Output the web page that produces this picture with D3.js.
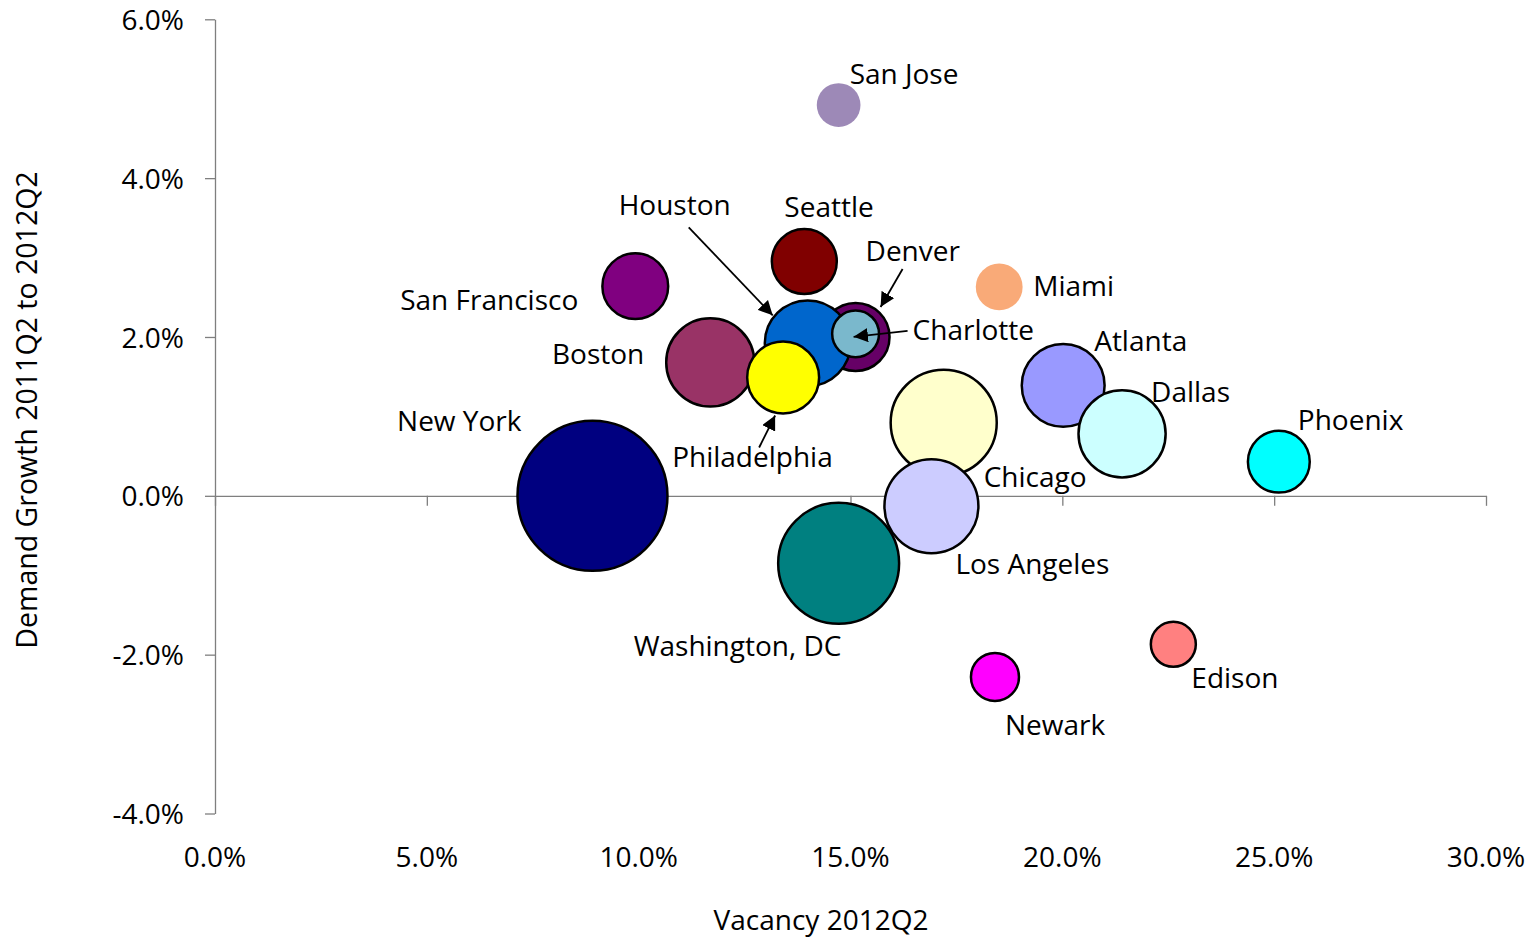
<!DOCTYPE html>
<html lang="en">
<head>
<meta charset="UTF-8">
<script src="https://cdn.jsdelivr.net/npm/d3@7/dist/d3.min.js"></script>
<title>Vacancy vs Demand Growth</title>
<style>
    body { margin: 0; background: #fff; }
    text { font-family: "Open Sans", sans-serif; fill: #000; }
</style>
</head>
<body>
<script>

    // data
    let cities = ["New York", "Washington, DC", "Chicago", "Los Angeles", "Boston", "Atlanta", "Dallas",
        "Denver", "Houston", "Philadelphia", "Charlotte", "San Francisco", "Seattle", "Phoenix",
        "Miami", "San Jose", "Newark", "Edison"];
    let vacancy = [8.91, 14.72, 17.20, 16.91, 11.69, 20.02, 21.41,
        15.12, 13.99, 13.41, 15.12, 9.92, 13.91, 25.11,
        18.51, 14.72, 18.41, 22.62];
    let growth = [0.00, -0.85, 0.92, -0.13, 1.68, 1.39, 0.78,
        2.00, 1.92, 1.49, 2.04, 2.64, 2.95, 0.43,
        2.63, 4.92, -2.28, -1.87];
    let inventory = [400, 260, 200, 157, 138, 122, 135,
        82, 131, 92, 39, 77, 75, 68,
        39, 34, 41, 36];
    let xTicks = [0, 5, 10, 15, 20, 25, 30];
    let yTicks = [-4, -2, 0, 2, 4, 6];

    let colors = {
        "New York": "#000080", "Washington, DC": "#008080", "Chicago": "#FFFFCC", "Los Angeles": "#CCCCFF",
        "Boston": "#993366", "Atlanta": "#9999FF", "Dallas": "#CCFFFF", "Denver": "#660066",
        "Houston": "#0066CC", "Philadelphia": "#FFFF00", "Charlotte": "#7AB8CC", "San Francisco": "#800080",
        "Seattle": "#800000", "Phoenix": "#00FFFF", "Miami": "#F9AA78", "San Jose": "#9D89B7",
        "Newark": "#FF00FF", "Edison": "#FF8080"
    };
    let noStroke = ["Miami", "San Jose"];

    // label placement (px from bubble centre), anchor
    let labelPos = {
        "San Jose": [11, -31, "start"], "Seattle": [-20, -55, "start"], "Houston": [-189, -138, "start"],
        "Denver": [10, -86, "start"], "San Francisco": [-57, 14, "end"], "Miami": [34, -1, "start"],
        "Charlotte": [57, -4, "start"], "Boston": [-66, -8, "end"], "Atlanta": [31, -44, "start"],
        "Dallas": [29, -42, "start"], "New York": [-71, -75, "end"], "Phoenix": [19, -42, "start"],
        "Philadelphia": [-111, 80, "start"], "Chicago": [40, 54, "start"], "Los Angeles": [24, 58, "start"],
        "Washington, DC": [-205, 83, "start"], "Edison": [18, 34, "start"], "Newark": [10, 48, "start"]
    };
    // arrows: [tail dx, tail dy, tip dx, tip dy] from bubble centre
    let arrows = {
        "Houston": [-119, -116, -35, -28],
        "Denver": [47, -68, 25, -30],
        "Charlotte": [52, -3, -2, 3],
        "Philadelphia": [-24, 70, -8, 38]
    };

    let width = 1539, height = 937;
    let margin = {left: 215, top: 19.3, right: 53, bottom: 123.5};
    let innerW = width - margin.left - margin.right;
    let innerH = height - margin.top - margin.bottom;

    let svg = d3.select("body")
        .append("svg")
        .attr("width", width)
        .attr("height", height);

    let x = d3.scaleLinear().domain([0, 30]).range([margin.left, margin.left + innerW]);
    let y = d3.scaleLinear().domain([-4, 6]).range([margin.top + innerH, margin.top]);
    let r = d3.scaleSqrt().domain([0, 400]).range([0, 75]);

    let fmt = d => d.toFixed(1) + "%";

    // y axis
    let yAxis = svg.append("g")
        .attr("transform", `translate(${margin.left},0)`)
        .call(d3.axisLeft(y).tickValues(yTicks).tickSize(10).tickSizeOuter(0).tickPadding(21).tickFormat(fmt));

    // x axis line at zero with ticks down
    let xAxis = svg.append("g")
        .attr("transform", `translate(0,${y(0)})`)
        .call(d3.axisBottom(x).tickValues(xTicks).tickSize(10).tickSizeOuter(0).tickFormat(""));

    // x tick labels along the bottom
    svg.append("g")
        .selectAll("text")
        .data(xTicks)
        .join("text")
        .attr("x", d => x(d))
        .attr("y", 867)
        .attr("text-anchor", "middle")
        .style("font-size", "28px")
        .text(fmt);

    svg.selectAll(".domain, .tick line").attr("stroke", "#7f7f7f").attr("stroke-width", 1.3);
    yAxis.selectAll("text").style("font-size", "28px").attr("fill", "#000").attr("dy", "0.36em");

    // axis titles
    svg.append("text")
        .attr("x", 821)
        .attr("y", 930)
        .attr("text-anchor", "middle")
        .style("font-size", "28px")
        .text("Vacancy 2012Q2");

    svg.append("text")
        .attr("transform", "translate(37,410) rotate(-90)")
        .attr("text-anchor", "middle")
        .style("font-size", "28.5px")
        .text("Demand Growth 2011Q2 to 2012Q2");

    let data = cities.map((c, i) => ({city: c, v: vacancy[i], g: growth[i], s: inventory[i]}));

    svg.append("g")
        .selectAll("circle")
        .data(data)
        .join("circle")
        .attr("cx", d => x(d.v))
        .attr("cy", d => y(d.g))
        .attr("r", d => r(d.s))
        .attr("fill", d => colors[d.city])
        .attr("stroke", d => noStroke.includes(d.city) ? "none" : "#000")
        .attr("stroke-width", 2.5);

    svg.append("defs").append("marker")
        .attr("id", "head")
        .attr("viewBox", "0 0 10 10")
        .attr("refX", 10)
        .attr("refY", 5)
        .attr("markerWidth", 8)
        .attr("markerHeight", 8)
        .attr("markerUnits", "strokeWidth")
        .attr("orient", "auto")
        .append("path")
        .attr("d", "M0,0 L10,5 L0,10 Z")
        .attr("fill", "#000");

    svg.append("g")
        .selectAll("line")
        .data(data.filter(d => arrows[d.city]))
        .join("line")
        .attr("x1", d => x(d.v) + arrows[d.city][0])
        .attr("y1", d => y(d.g) + arrows[d.city][1])
        .attr("x2", d => x(d.v) + arrows[d.city][2])
        .attr("y2", d => y(d.g) + arrows[d.city][3])
        .attr("stroke", "#000")
        .attr("stroke-width", 1.8)
        .attr("marker-end", "url(#head)");

    svg.append("g")
        .selectAll("text")
        .data(data)
        .join("text")
        .attr("x", d => x(d.v) + labelPos[d.city][0])
        .attr("y", d => y(d.g) + labelPos[d.city][1] + 10)
        .attr("text-anchor", d => labelPos[d.city][2])
        .style("font-size", "28px")
        .text(d => d.city);

</script>
</body>
</html>
